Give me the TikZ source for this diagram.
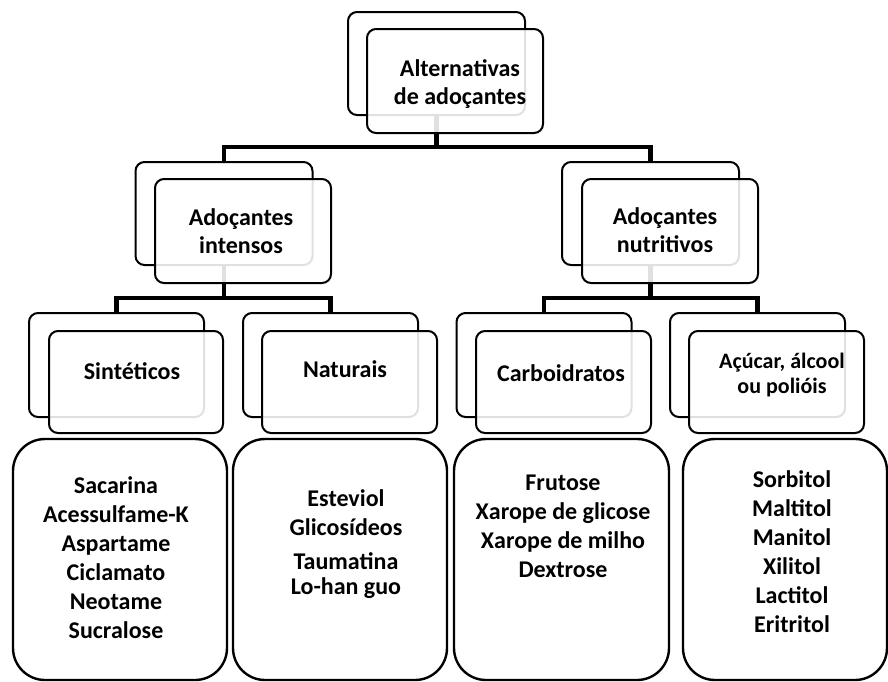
\documentclass[tikz,border=0pt]{standalone}
\usepackage{fontspec}
\setmainfont{Carlito}
\begin{document}
\begin{tikzpicture}[x=1pt,y=-1pt,
  back/.style={draw, line width=2pt, rounded corners=9pt, fill=white, minimum width=177pt, minimum height=103pt, inner sep=0pt},
  front/.style={draw, line width=2pt, rounded corners=9pt, fill=white, fill opacity=0.88, draw opacity=1, minimum width=176pt, minimum height=104pt, inner sep=0pt},
  lbl/.style={font=\fontsize{24}{28}\selectfont\bfseries, align=center, inner sep=0pt},
  lbls/.style={font=\fontsize{22}{25}\selectfont\bfseries, align=center, inner sep=0pt},
  listbox/.style={draw, line width=2.4pt, rounded corners=32pt, minimum width=214pt, minimum height=241pt, inner sep=0pt},
  listtxt/.style={font=\fontsize{24}{29}\selectfont\bfseries, align=center, inner sep=0pt},
  conn/.style={line width=4.2pt}]
\useasboundingbox (0,0) rectangle (888,681);

% back boxes
\node[back] (rootB) at (436.5,63.5) {};
\node[back] (intB) at (224,213.5) {};
\node[back] (nutB) at (650.5,213.5) {};
\node[back,minimum width=175pt,minimum height=104pt] (sinB) at (116.5,365) {};
\node[back,minimum width=175pt,minimum height=104pt] (natB) at (330.5,365) {};
\node[back,minimum width=175pt,minimum height=104pt] (carB) at (544,365) {};
\node[back,minimum width=175pt,minimum height=104pt] (acuB) at (757.5,365) {};

% connectors
\coordinate (j1) at (436.5,147);
\coordinate (j2) at (224,298);
\coordinate (j3) at (650.5,298);
\draw[conn] (rootB.south) -- (j1) -| (intB.north);
\draw[conn] (j1) -| (nutB.north);
\draw[conn] (intB.south) -- (j2) -| (sinB.north);
\draw[conn] (j2) -| (natB.north);
\draw[conn] (nutB.south) -- (j3) -| (carB.north);
\draw[conn] (j3) -| (acuB.north);

% front boxes
\node[front] (rootF) at (455,81) {};
\node[front] (intF) at (243,231) {};
\node[front] (nutF) at (670,231) {};
\node[front,minimum width=174pt,minimum height=102pt] (sinF) at (136,382) {};
\node[front,minimum width=175pt,minimum height=102pt] (natF) at (349.5,382) {};
\node[front,minimum width=175pt,minimum height=102pt] (carF) at (563.5,382) {};
\node[front,minimum width=175pt,minimum height=102pt] (acuF) at (776.5,382) {};

% labels
\node[lbl] (rootT) at (460,84) {Alternativas\\de adoçantes};
\node[lbl] (intT) at (241,231) {Adoçantes\\intensos};
\node[lbl] (nutT) at (665,230) {Adoçantes\\nutritivos};
\node[lbl] (sinT) at (132,371) {Sintéticos};
\node[lbl] (natT) at (345,369) {Naturais};
\node[lbl] (carT) at (561,373) {Carboidratos};
\node[lbls] (acuT) at (782,375) {Açúcar, álcool\\ou polióis};

% list boxes
\node[listbox] (l1) at (120,559.5) {};
\node[listbox] (l2) at (340,559.5) {};
\node[listbox,minimum width=215pt] (l3) at (561.5,559.5) {};
\node[listbox,minimum width=204pt] (l4) at (785,559.5) {};

\node[listtxt] (l1T) at (116,558) {Sacarina\\Acessulfame-K\\Aspartame\\Ciclamato\\Neotame\\Sucralose};
\node[listtxt] (l2T) at (346,544) {Esteviol\\Glicosídeos\\[5pt]Taumatina\\[-4pt]Lo-han guo};
\node[listtxt] (l3T) at (563,526) {Frutose\\Xarope de glicose\\Xarope de milho\\Dextrose};
\node[listtxt] (l4T) at (792,552) {Sorbitol\\Maltitol\\Manitol\\Xilitol\\Lactitol\\Eritritol};
\end{tikzpicture}
\end{document}
